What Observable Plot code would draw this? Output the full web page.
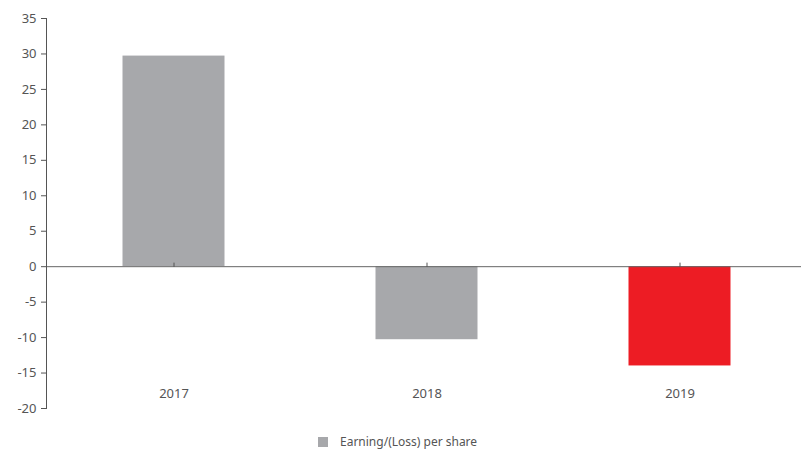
<!DOCTYPE html>
<html>
<head>
<meta charset="utf-8">
<script src="https://cdn.jsdelivr.net/npm/d3@7"></script>
<script src="https://cdn.jsdelivr.net/npm/@observablehq/plot@0.6"></script>
<style>
  body { margin: 0; background: #fff; font-family: "Noto Sans", sans-serif; }
  #wrap { position: relative; width: 801px; height: 450px; }
  #legend { position: absolute; left: 318px; top: 433px; display: flex; align-items: center; font-size: 12px; color: #555; }
  #legend .sw { width: 10px; height: 10px; background: #a7a8ab; margin-right: 12px; }
</style>
</head>
<body>
<div id="wrap">
  <div id="chart"></div>
  <div id="legend"><div class="sw"></div><span>Earning/(Loss) per share</span></div>
</div>
<script>
const years = ["2017", "2018", "2019"];
const values = [29.7, -10.3, -14.0];
const yTicks = [-20, -15, -10, -5, 0, 5, 10, 15, 20, 25, 30, 35];
const seriesName = "Earning/(Loss) per share";
const highlightYear = "2019";

const data = years.map((year, i) => ({year, value: values[i]}));

const chart = Plot.plot({
  width: 801,
  height: 420,
  marginTop: 18,
  marginBottom: 12,
  marginLeft: 46,
  marginRight: 0,
  style: { fontFamily: "Noto Sans, sans-serif", fontSize: "13px", color: "#555", overflow: "hidden" },
  x: { domain: years, padding: 0, range: [47, 806], label: null },
  y: { domain: [-20, 35], label: null },
  marks: [
    Plot.barY(data, {
      x: "year", y: "value", insetLeft: 75.5, insetRight: 75.5,
      fill: d => d.year === highlightYear ? "#ed1c24" : "#a7a8ab"
    }),
    Plot.ruleY([0], { stroke: "#666", strokeWidth: 1 }),
    Plot.ruleX(years, { x: d => d, y1: -0.1, y2: 0.5, stroke: "#555" }),
    Plot.axisY({ ticks: yTicks, tickSize: 5, tickPadding: 5, tickFormat: d => String(d), stroke: "#555", fill: "#555", label: null }),
    Plot.frame({ anchor: "left", stroke: "#555" }),
    Plot.axisX({ tickSize: 0, tickPadding: -20, fill: "#555", label: null })
  ]
});
document.getElementById("chart").appendChild(chart);
</script>
</body>
</html>
